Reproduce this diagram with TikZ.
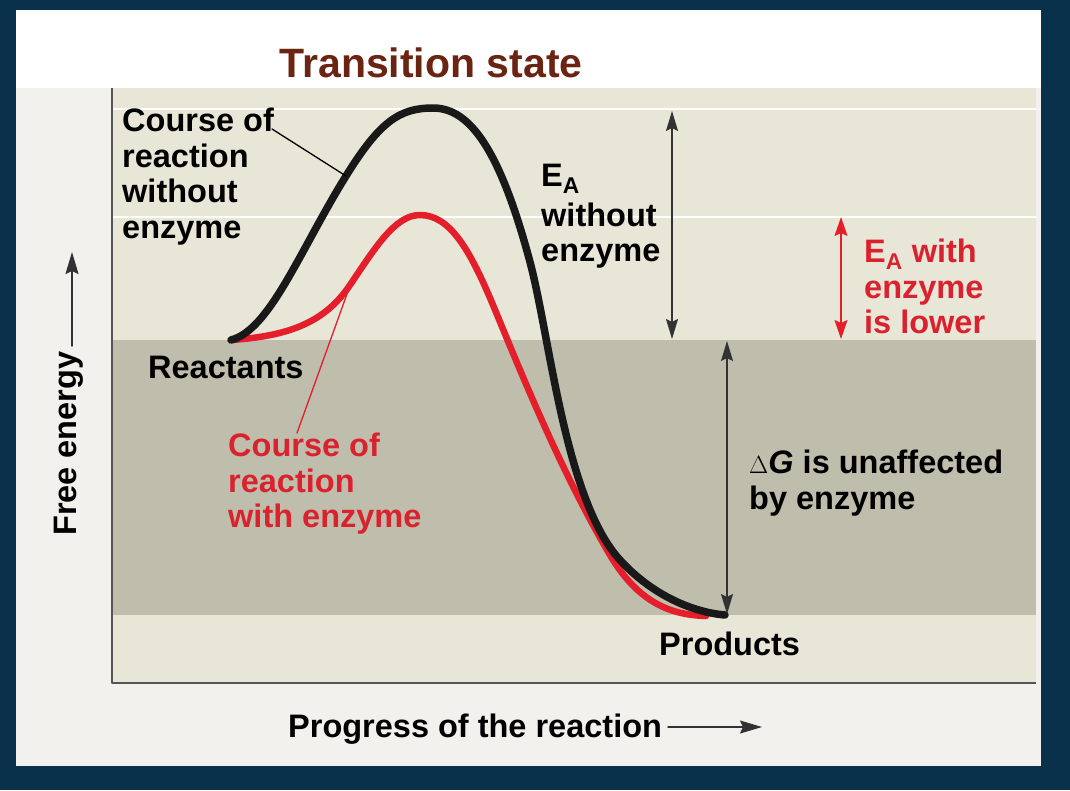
\documentclass[tikz,border=0pt]{standalone}
\usepackage{fontspec}
\setmainfont{Liberation Sans}
\usetikzlibrary{arrows.meta,positioning}
\definecolor{navy}{RGB}{9,49,76}
\definecolor{panel}{RGB}{243,241,237}
\definecolor{bandlight}{RGB}{232,230,215}
\definecolor{banddark}{RGB}{191,189,172}
\definecolor{axisgrey}{RGB}{85,85,85}
\definecolor{arrgrey}{RGB}{50,50,50}
\definecolor{enzred}{RGB}{228,30,42}
\definecolor{txtred}{RGB}{218,34,46}
\definecolor{titlebrown}{RGB}{107,35,18}
\begin{document}
\begin{tikzpicture}[x=1pt,y=-1pt, line join=round, line cap=round,
	lbl/.style={font=\fontsize{32.5}{35.5}\selectfont\bfseries, inner sep=0pt, align=left},
	tipA/.tip={Stealth[length=20pt,width=12pt,inset=3pt]},
	dbl/.style={tipA-tipA, line width=1.6pt, draw=arrgrey},
	curve/.style={line width=7.5pt}]
	% frame and bands
	\fill[navy] (0,0) rectangle (1070,790);
	\fill[panel] (16,10) rectangle (1041,766);
	\fill[white] (16,10) rectangle (1041,88);
	\fill[bandlight] (112,88) rectangle (1036,340);
	\fill[banddark] (112,340) rectangle (1036,615);
	\fill[bandlight] (112,615) rectangle (1036,683);
	\foreach \y in {109,217}{
		\draw[white, line width=1.5pt] (112,\y) -- (1036,\y);
	}
	\draw[axisgrey, line width=1.6pt, line cap=butt] (112,88) -- (112,683) -- (1036,683);
	% levels
	\coordinate (react) at (231,340);
	\coordinate (prod) at (725,615);
	\coordinate (eaTop) at (672,111);
	\coordinate (eaBot) at (672,339);
	\coordinate (enzTop) at (841,217);
	\coordinate (enzBot) at (841,339);
	\coordinate (dgTop) at (727,341);
	\coordinate (dgBot) at (727,614);
	% curves
	\draw[curve, enzred, line width=6.5pt] (react) .. controls (290,336) and (325,322) .. (350,285)
		.. controls (375,248) and (395,215) .. (420,215)
		.. controls (450,215) and (470,250) .. (493,305)
		.. controls (520,370) and (560,470) .. (610,555)
		.. controls (640,606) and (675,615) .. (706,616);
	\draw[curve, black!90] (react) .. controls (270,330) and (300,250) .. (346,176)
		.. controls (380,121) and (400,108) .. (433,108)
		.. controls (470,108) and (500,150) .. (530,262)
		.. controls (550,337) and (565,500) .. (620,560)
		.. controls (650,593) and (690,612) .. (prod);
	% arrows
	\draw[dbl] (eaTop) -- (eaBot);
	\draw[dbl] (dgTop) -- (dgBot);
	\draw[{Stealth[length=19pt,width=13pt,inset=3pt]}-{Stealth[length=19pt,width=13pt,inset=3pt]}, line width=1.5pt, draw=enzred, fill=enzred] (enzTop) -- (enzBot);
	% labels
	\node[lbl, font=\fontsize{41}{45}\selectfont\bfseries, text=titlebrown, anchor=base] (ts) at (431,77) {Transition state};
	\node[lbl, anchor=north west] (wo) at (122,108) {Course of\\reaction\\without\\enzyme};
	\node[lbl, anchor=north west, text=txtred] (wi) at (228,433) {Course of\\reaction\\with enzyme};
	\node[lbl, anchor=north west] (eaWo) at (541,164) {E\textsubscript{A}\\[4pt]without\\enzyme};
	\node[lbl, anchor=north west, text=txtred] (eaWi) at (864,239) {E\textsubscript{A} with\\enzyme\\is lower};
	\node[lbl, anchor=north west] (dg) at (749,450) {$\Delta$\textit{G} is unaffected\\by enzyme};
	\node[lbl, anchor=base west] (reac) at (148,378) {Reactants};
	\node[lbl, anchor=base west] (prd) at (659,655) {Products};
	\node[lbl, anchor=base west] (prog) at (288,737) {Progress of the reaction};
	\node[lbl, anchor=base west, rotate=90] (fe) at (76,536) {Free energy};
	% leaders and axis arrows
	\coordinate (woStart) at (272,129);
	\coordinate (woEnd) at (346,176);
	\coordinate (wiEnd) at (352,280);
	\draw[black, line width=1.3pt] (woStart) -- (woEnd);
	\draw[enzred, line width=1.3pt] ([xshift=69pt]wi.north west) -- (wiEnd);
	\coordinate (progTail) at (668,727);
	\coordinate (progTip) at (762,727);
	\coordinate (feTail) at (72,346);
	\coordinate (feTip) at (72,252);
	\draw[-{Stealth[length=22pt,width=13pt,inset=3pt]}, line width=1.5pt, arrgrey] (progTail) -- (progTip);
	\draw[-{Stealth[length=22pt,width=13pt,inset=3pt]}, line width=1.5pt, arrgrey] (feTail) -- (feTip);
\end{tikzpicture}
\end{document}
